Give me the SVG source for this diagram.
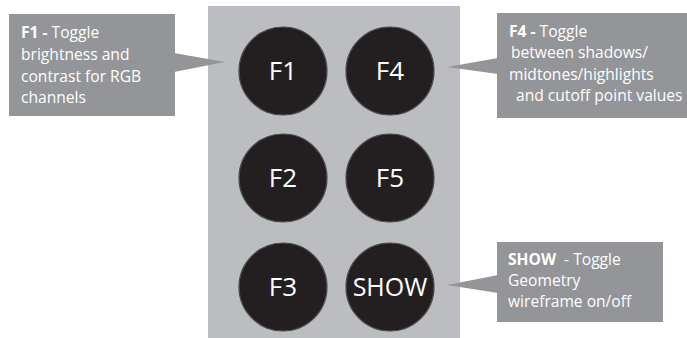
<svg xmlns="http://www.w3.org/2000/svg" width="687" height="338" viewBox="0 0 687 338">
  <style>
    .panel { fill: #bcbdc0; }
    .key { fill: #231f20; stroke: #4a4a4c; stroke-width: 1.2; }
    .key-label { fill: #ffffff; font-family: "Open Sans", "Noto Sans", sans-serif; font-size: 26px; text-anchor: middle; }
    .callout { fill: #939598; }
    .note { fill: #ffffff; font-family: "Open Sans", "Noto Sans", sans-serif; font-size: 15.6px; }
    .note tspan.b { font-weight: bold; }
  </style>

  <!-- keypad background -->
  <rect class="panel" x="208" y="6" width="252" height="332"/>

  <!-- keys -->
  <g id="key-f1">
    <circle class="key" cx="283" cy="71" r="44"/>
    <text class="key-label" x="283" y="80">F1</text>
  </g>
  <g id="key-f4">
    <circle class="key" cx="390" cy="71" r="44"/>
    <text class="key-label" x="390" y="80">F4</text>
  </g>
  <g id="key-f2">
    <circle class="key" cx="283" cy="178" r="44"/>
    <text class="key-label" x="283" y="187">F2</text>
  </g>
  <g id="key-f5">
    <circle class="key" cx="390" cy="178" r="44"/>
    <text class="key-label" x="390" y="187">F5</text>
  </g>
  <g id="key-f3">
    <circle class="key" cx="283" cy="287" r="44"/>
    <text class="key-label" x="283" y="296">F3</text>
  </g>
  <g id="key-show">
    <circle class="key" cx="390" cy="287" r="44"/>
    <text class="key-label" x="390" y="296" style="font-size:25px">SHOW</text>
  </g>

  <!-- callout pointers -->
  <g id="connectors">
    <polygon class="callout" points="174,53 225,62 174,72"/>
    <polygon class="callout" points="498,58 447,67 498,74"/>
    <polygon class="callout" points="498,275 447,285 498,293"/>
  </g>

  <!-- callouts -->
  <g id="note-f1">
    <rect class="callout" x="9" y="14" width="166" height="102"/>
    <text class="note">
      <tspan x="21" y="38"><tspan class="b">F1 -</tspan> Toggle</tspan>
      <tspan x="21" y="60">brightness and</tspan>
      <tspan x="21" y="82">contrast for RGB</tspan>
      <tspan x="21" y="103">channels</tspan>
    </text>
  </g>
  <g id="note-f4">
    <rect class="callout" x="497" y="13" width="190" height="105"/>
    <text class="note">
      <tspan x="509" y="37"><tspan class="b">F4 -</tspan> Toggle</tspan>
      <tspan x="511" y="58">between shadows/</tspan>
      <tspan x="509" y="80">midtones/highlights</tspan>
      <tspan x="516" y="101">and cutoff point values</tspan>
    </text>
  </g>
  <g id="note-show">
    <rect class="callout" x="497" y="242" width="166" height="80"/>
    <text class="note" xml:space="preserve">
      <tspan x="508" y="265"><tspan class="b">SHOW</tspan>  - Toggle</tspan>
      <tspan x="508" y="286">Geometry</tspan>
      <tspan x="508" y="307">wireframe on/off</tspan>
    </text>
  </g>
</svg>
